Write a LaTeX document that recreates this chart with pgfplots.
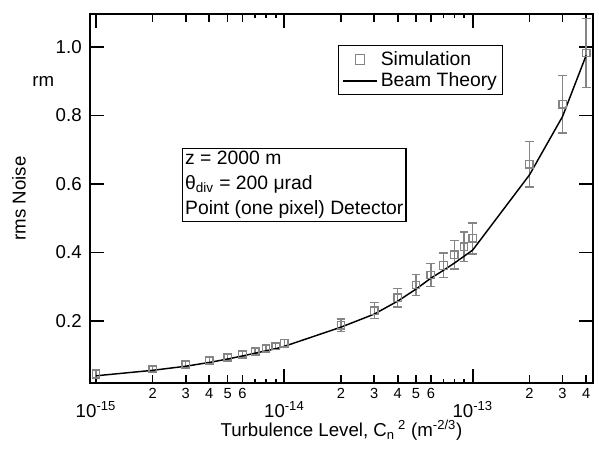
\documentclass[border=0pt]{standalone}
\usepackage{fontspec}
\setmainfont{Liberation Sans}
\usepackage{pgfplots}
\usepackage{pgfplotstable}
\pgfplotsset{compat=1.18}
\definecolor{simgray}{gray}{0.52}
\pgfplotsset{
  legsq/.style={legend image code/.code={\draw[mark repeat=1,mark phase=1,##1] plot coordinates {(0.46cm,0cm)};}},
  legline/.style={legend image code/.code={\draw[##1] (0cm,0cm) -- (0.92cm,0cm);}},
}

\pgfplotstableread{
x y e
1e-15 0.045 0.012
2e-15 0.060 0.008
3e-15 0.074 0.008
4e-15 0.085 0.008
5e-15 0.094 0.008
6e-15 0.103 0.008
7e-15 0.112 0.008
8e-15 0.120 0.009
9e-15 0.127 0.009
1e-14 0.135 0.010
2e-14 0.188 0.018
3e-14 0.230 0.023
4e-14 0.268 0.027
5e-14 0.305 0.030
6e-14 0.334 0.033
7e-14 0.362 0.036
8e-14 0.393 0.041
9e-14 0.417 0.043
1e-13 0.441 0.045
2e-13 0.657 0.066
3e-13 0.833 0.084
4e-13 0.982 0.100
}\simdata

\pgfplotstableread{
x y
1e-15 0.040
2e-15 0.056
3e-15 0.068
4e-15 0.079
5e-15 0.089
6e-15 0.098
7e-15 0.106
8e-15 0.113
9e-15 0.119
1e-14 0.126
2e-14 0.182
3e-14 0.220
4e-14 0.258
5e-14 0.293
6e-14 0.325
7e-14 0.348
8e-14 0.369
9e-14 0.389
1e-13 0.407
2e-13 0.626
3e-13 0.797
4e-13 0.975
}\theory

\begin{document}
\begin{tikzpicture}
\begin{axis}[
  name=ax,
  xmode=log,
  scale only axis,
  clip=false,
  width=377.25pt, height=276.75pt,
  xmin=9.3e-16, xmax=4.35e-13,
  ymin=0.019, ymax=1.096,
  axis line style={line width=1.4pt},
  every tick/.style={black, line width=1.3pt},
  major tick length=10.5pt,
  minor tick length=3.3pt,
  xtick={1e-15,1e-14,1e-13},
  xticklabels={10\textsuperscript{-15},10\textsuperscript{-14},10\textsuperscript{-13}},
  xticklabel style={font=\fontsize{14}{16}\selectfont, anchor=north, inner sep=0pt, yshift=-13.5pt},
  extra x ticks={2e-15,3e-15,4e-15,5e-15,6e-15,2e-14,3e-14,4e-14,5e-14,6e-14,2e-13,3e-13,4e-13},
  extra x tick labels={2,3,4,5,6,2,3,4,5,6,2,3,4},
  extra x tick style={major tick length=5.7pt, xticklabel style={font=\fontsize{11}{13}\selectfont, yshift=9.75pt}},
  ytick={0.2,0.4,0.6,0.8,1.0},
  yticklabels={0.2,0.4,0.6,0.8,1.0},
  minor y tick num=0,
  yticklabel style={font=\fontsize{14}{16}\selectfont, inner sep=0pt, xshift=-6pt},
  legend style={at={(rel axis cs:0.493,0.916)}, anchor=north west, draw=black, line width=0.8pt,
    font=\fontsize{14.5}{17}\selectfont, inner sep=2.5pt, row sep=0pt,
    nodes={inner sep=2pt}},
  legend cell align=left,
]
\addplot[forget plot, only marks, mark=square, mark size=2.8pt, mark options={simgray, line width=1pt},
  error bars/.cd, y dir=both, y explicit,
  error bar style={simgray, line width=1pt},
  error mark options={simgray, rotate=90, mark size=3.3pt, line width=1pt}]
  table[x=x, y=y, y error=e]{\simdata};
\addplot[forget plot, black, line width=1.1pt, mark=none] table[x=x, y=y]{\theory};

\addlegendimage{only marks, legsq, mark=square, mark size=3.6pt, mark options={simgray, line width=1pt}}
\addlegendentry{Simulation}
\addlegendimage{legline, black, line width=1.1pt}
\addlegendentry{Beam Theory}

\node[draw, line width=0.8pt, anchor=north west, align=left, inner sep=2pt,
  font=\fontsize{14.5}{18.75}\selectfont] at (rel axis cs:0.183,0.637)
  {z = 2000 m\\θ\textsubscript{div} = 200 μrad\\Point (one pixel) Detector};
\node[rotate=90, font=\fontsize{14}{16}\selectfont] at ([xshift=-53.25pt]rel axis cs:0,0.5) {rms Noise};
\node[font=\fontsize{14}{16}\selectfont] at ([yshift=-35.25pt]rel axis cs:0.5,0) {Turbulence Level, C\textsubscript{n}\,\textsuperscript{2} (m\textsuperscript{-2/3})};
\node[font=\fontsize{14}{16}\selectfont] at ([xshift=-35pt]rel axis cs:0,0.818) {rm};
\end{axis}
\pgfresetboundingbox
\path[use as bounding box] ([xshift=-67.5pt,yshift=-50.25pt]ax.south west) rectangle ([xshift=4.5pt,yshift=10.5pt]ax.north east);
\end{tikzpicture}
\end{document}
